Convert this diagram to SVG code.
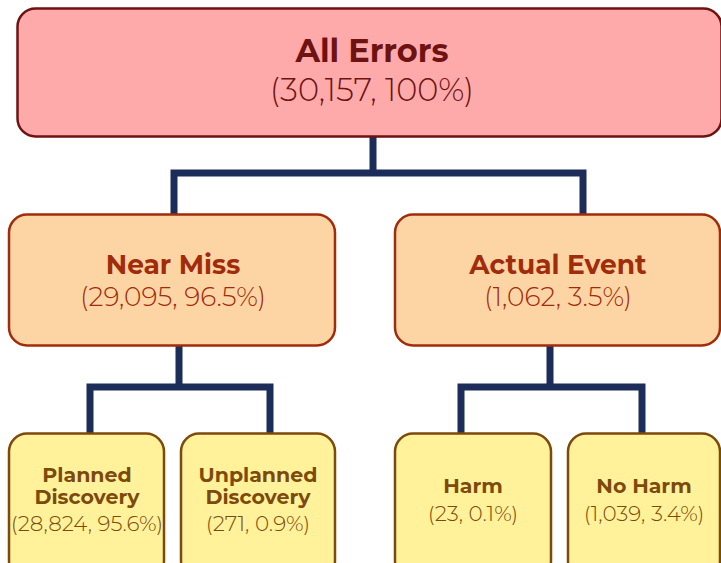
<svg xmlns="http://www.w3.org/2000/svg" width="721" height="563" viewBox="0 0 721 563">
<style>
text{font-family:"Montserrat","Open Sans","Liberation Sans",sans-serif;text-anchor:middle}
.l1 rect{fill:#ffaaaa;stroke:#6e1212;stroke-width:2.5}
.l1 .t{fill:#6e1212;font-weight:700;font-size:32px}
.l1 .n{fill:#6e1212;font-weight:300;font-size:32px}
.l2 rect{fill:#fdd5a5;stroke:#a12c0b;stroke-width:2.5}
.l2 .t{fill:#a12c0b;font-weight:700;font-size:26.5px}
.l2 .n{fill:#a12c0b;font-weight:300;font-size:26.5px}
.l3 rect{fill:#fff29a;stroke:#7d4a0c;stroke-width:2.5}
.l3 .t{fill:#7d4a0c;font-weight:700;font-size:20.5px}
.l3 .n{fill:#7d4a0c;font-weight:300;font-size:21.5px}
#connectors path{fill:none;stroke:#1c2d5a;stroke-width:7;stroke-linejoin:miter}
</style>
<g id="connectors">
<path d="M373,137 V173 M174,214 V173 H583 V214"/>
<path d="M179,346 V387 M90,433 V387 H270 V433"/>
<path d="M550,346 V387 M461,433 V387 H642 V433"/>
</g>
<g id="all-errors" class="l1">
<rect x="17.5" y="8.5" width="704" height="128" rx="18"/>
<text class="t" x="372" y="62">All Errors</text>
<text class="n" x="372" y="101">(30,157, 100%)</text>
</g>
<g id="near-miss" class="l2">
<rect x="9" y="214.5" width="326" height="131" rx="18"/>
<text class="t" x="173" y="274">Near Miss</text>
<text class="n" x="173" y="306">(29,095, 96.5%)</text>
</g>
<g id="actual-event" class="l2">
<rect x="395" y="214.5" width="325" height="131" rx="18"/>
<text class="t" x="558" y="274">Actual Event</text>
<text class="n" x="558" y="306">(1,062, 3.5%)</text>
</g>
<g id="planned" class="l3">
<rect x="9" y="433.5" width="155" height="145" rx="18"/>
<text class="t" x="87" y="482">Planned</text>
<text class="t" x="87" y="504">Discovery</text>
<text class="n" x="87" y="531">(28,824, 95.6%)</text>
</g>
<g id="unplanned" class="l3">
<rect x="181" y="433.5" width="154" height="145" rx="18"/>
<text class="t" x="258" y="482">Unplanned</text>
<text class="t" x="258" y="504">Discovery</text>
<text class="n" x="258" y="531">(271, 0.9%)</text>
</g>
<g id="harm" class="l3">
<rect x="395" y="433.5" width="156" height="145" rx="18"/>
<text class="t" x="473" y="493">Harm</text>
<text class="n" x="473" y="521">(23, 0.1%)</text>
</g>
<g id="no-harm" class="l3">
<rect x="568" y="433.5" width="152" height="145" rx="18"/>
<text class="t" x="644" y="493">No Harm</text>
<text class="n" x="644" y="521">(1,039, 3.4%)</text>
</g>
</svg>
